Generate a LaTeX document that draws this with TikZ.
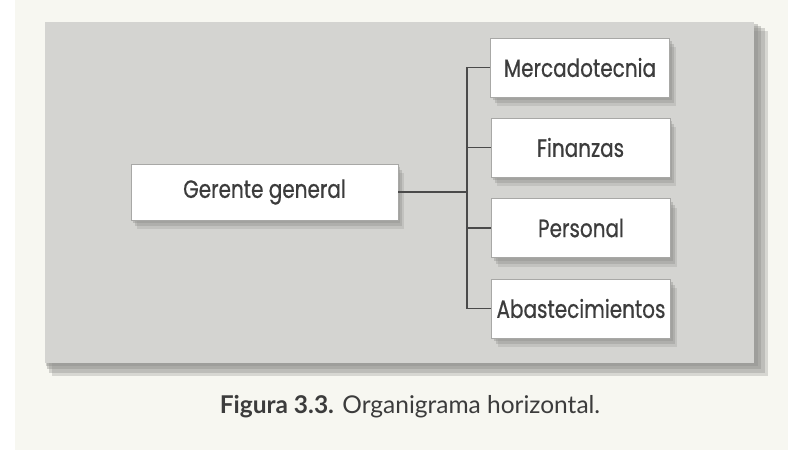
\documentclass[tikz,border=0pt]{standalone}
\usepackage{fontspec}
\setmainfont{Lato}
\newfontfamily\boxfont[FakeStretch=0.8,FakeBold=0.6]{Poppins}
\newfontfamily\capfont{Lato}
\usetikzlibrary{shadows}
\definecolor{pagebg}{HTML}{F7F7F1}
\definecolor{panelbg}{HTML}{D4D4D1}
\definecolor{shadowc}{HTML}{8E8E8B}
\definecolor{linec}{HTML}{4A4A4A}
\definecolor{textc}{HTML}{3C3C3C}
\definecolor{borderc}{HTML}{A8A8A6}
\tikzset{
  softshadow/.style={
    drop shadow={shadow xshift=2pt, shadow yshift=-3pt, fill=shadowc, opacity=0.4},
    drop shadow={shadow xshift=4pt, shadow yshift=-6pt, fill=shadowc, opacity=0.35},
    drop shadow={shadow xshift=6pt, shadow yshift=-9pt, fill=shadowc, opacity=0.25}},
  orgbox/.style={draw=borderc, line width=0.6pt, fill=white, softshadow,
    text=textc, font=\boxfont\fontsize{25}{28}\selectfont, inner sep=0pt,
    minimum height=59pt},
  subbox/.style={orgbox, minimum width=179pt},
  conn/.style={draw=linec, line width=1.3pt},
}
\begin{document}
\begin{tikzpicture}[x=1pt,y=-1pt]
\useasboundingbox (0,0) rectangle (788,450);
\fill[pagebg] (0,0) rectangle (788,450);
\fill[white] (0,0) rectangle (15,450);
% panel shadow
\fill[shadowc, opacity=0.3] (52,31) rectangle (768,376);
\fill[shadowc, opacity=0.35] (49,28) rectangle (765,373);
\fill[shadowc, opacity=0.4] (47,26) rectangle (761,369);
\fill[shadowc, opacity=0.4] (46,24) rectangle (758,366);
% panel
\fill[panelbg] (45,22) rectangle (754,363);
% nodes
\node[orgbox, minimum width=267pt, minimum height=56pt] (G) at (264.5,192) {Gerente general};
\node[subbox] (M) at (580,67.5) {Mercadotecnia};
\node[subbox] (F) at (580.5,147.5) {Finanzas};
\node[subbox] (P) at (581,228) {Personal};
\node[subbox] (A) at (581,308.5) {Abastecimientos};
\coordinate (tk) at (467,0);
% connectors
\draw[conn] (G.east) -- (G.east -| tk);
\draw[conn] (M.west) -- (M.west -| tk) -- (A.west -| tk) -- (A.west);
\draw[conn] (F.west) -- (F.west -| tk);
\draw[conn] (P.west) -- (P.west -| tk);
% caption
\node[anchor=base, text=textc, font=\capfont\fontsize{24.5}{28}\selectfont, inner sep=0pt] (cap) at (410,413) {\textbf{Figura 3.3.} Organigrama horizontal.};
\end{tikzpicture}
\end{document}
